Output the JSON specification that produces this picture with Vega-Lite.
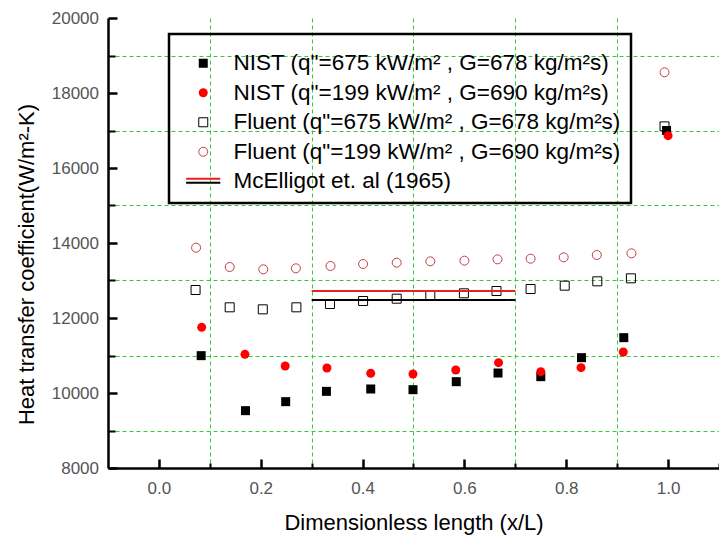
{
  "$schema": "https://vega.github.io/schema/vega-lite/v6.json",
  "width": 611,
  "height": 450,
  "autosize": "none",
  "padding": {"left": 108, "top": 18, "right": 0, "bottom": 70},
  "background": "white",
  "config": {
    "view": {"stroke": null},
    "font": "Liberation Sans",
    "legend": {"strokeWidth": 2.5}
  },
  "resolve": {"axis": {"x": "independent", "y": "independent"}},
  "layer": [
    {
      "data": {"values": [
        {"series": "NIST (q\"=675 kW/m² , G=678 kg/m²s)", "x": 0.083, "h": 10996},
        {"series": "NIST (q\"=675 kW/m² , G=678 kg/m²s)", "x": 0.170, "h": 9529},
        {"series": "NIST (q\"=675 kW/m² , G=678 kg/m²s)", "x": 0.249, "h": 9769},
        {"series": "NIST (q\"=675 kW/m² , G=678 kg/m²s)", "x": 0.329, "h": 10044},
        {"series": "NIST (q\"=675 kW/m² , G=678 kg/m²s)", "x": 0.416, "h": 10107},
        {"series": "NIST (q\"=675 kW/m² , G=678 kg/m²s)", "x": 0.499, "h": 10089},
        {"series": "NIST (q\"=675 kW/m² , G=678 kg/m²s)", "x": 0.584, "h": 10302},
        {"series": "NIST (q\"=675 kW/m² , G=678 kg/m²s)", "x": 0.666, "h": 10533},
        {"series": "NIST (q\"=675 kW/m² , G=678 kg/m²s)", "x": 0.750, "h": 10436},
        {"series": "NIST (q\"=675 kW/m² , G=678 kg/m²s)", "x": 0.830, "h": 10942},
        {"series": "NIST (q\"=675 kW/m² , G=678 kg/m²s)", "x": 0.913, "h": 11476},
        {"series": "NIST (q\"=675 kW/m² , G=678 kg/m²s)", "x": 0.997, "h": 17000},
        {"series": "Fluent (q\"=675 kW/m² , G=678 kg/m²s)", "x": 0.072, "h": 12747},
        {"series": "Fluent (q\"=675 kW/m² , G=678 kg/m²s)", "x": 0.139, "h": 12285},
        {"series": "Fluent (q\"=675 kW/m² , G=678 kg/m²s)", "x": 0.204, "h": 12231},
        {"series": "Fluent (q\"=675 kW/m² , G=678 kg/m²s)", "x": 0.270, "h": 12285},
        {"series": "Fluent (q\"=675 kW/m² , G=678 kg/m²s)", "x": 0.336, "h": 12373},
        {"series": "Fluent (q\"=675 kW/m² , G=678 kg/m²s)", "x": 0.401, "h": 12453},
        {"series": "Fluent (q\"=675 kW/m² , G=678 kg/m²s)", "x": 0.467, "h": 12515},
        {"series": "Fluent (q\"=675 kW/m² , G=678 kg/m²s)", "x": 0.533, "h": 12587},
        {"series": "Fluent (q\"=675 kW/m² , G=678 kg/m²s)", "x": 0.599, "h": 12658},
        {"series": "Fluent (q\"=675 kW/m² , G=678 kg/m²s)", "x": 0.663, "h": 12720},
        {"series": "Fluent (q\"=675 kW/m² , G=678 kg/m²s)", "x": 0.730, "h": 12773},
        {"series": "Fluent (q\"=675 kW/m² , G=678 kg/m²s)", "x": 0.797, "h": 12862},
        {"series": "Fluent (q\"=675 kW/m² , G=678 kg/m²s)", "x": 0.861, "h": 12978},
        {"series": "Fluent (q\"=675 kW/m² , G=678 kg/m²s)", "x": 0.927, "h": 13058},
        {"series": "Fluent (q\"=675 kW/m² , G=678 kg/m²s)", "x": 0.993, "h": 17110},
        {"series": "Fluent (q\"=199 kW/m² , G=690 kg/m²s)", "x": 0.073, "h": 13875},
        {"series": "Fluent (q\"=199 kW/m² , G=690 kg/m²s)", "x": 0.139, "h": 13360},
        {"series": "Fluent (q\"=199 kW/m² , G=690 kg/m²s)", "x": 0.205, "h": 13298},
        {"series": "Fluent (q\"=199 kW/m² , G=690 kg/m²s)", "x": 0.269, "h": 13325},
        {"series": "Fluent (q\"=199 kW/m² , G=690 kg/m²s)", "x": 0.337, "h": 13387},
        {"series": "Fluent (q\"=199 kW/m² , G=690 kg/m²s)", "x": 0.401, "h": 13440},
        {"series": "Fluent (q\"=199 kW/m² , G=690 kg/m²s)", "x": 0.467, "h": 13476},
        {"series": "Fluent (q\"=199 kW/m² , G=690 kg/m²s)", "x": 0.533, "h": 13511},
        {"series": "Fluent (q\"=199 kW/m² , G=690 kg/m²s)", "x": 0.600, "h": 13529},
        {"series": "Fluent (q\"=199 kW/m² , G=690 kg/m²s)", "x": 0.665, "h": 13564},
        {"series": "Fluent (q\"=199 kW/m² , G=690 kg/m²s)", "x": 0.730, "h": 13582},
        {"series": "Fluent (q\"=199 kW/m² , G=690 kg/m²s)", "x": 0.795, "h": 13618},
        {"series": "Fluent (q\"=199 kW/m² , G=690 kg/m²s)", "x": 0.860, "h": 13680},
        {"series": "Fluent (q\"=199 kW/m² , G=690 kg/m²s)", "x": 0.928, "h": 13724},
        {"series": "Fluent (q\"=199 kW/m² , G=690 kg/m²s)", "x": 0.993, "h": 18552},
        {"series": "NIST (q\"=199 kW/m² , G=690 kg/m²s)", "x": 0.084, "h": 11751},
        {"series": "NIST (q\"=199 kW/m² , G=690 kg/m²s)", "x": 0.169, "h": 11031},
        {"series": "NIST (q\"=199 kW/m² , G=690 kg/m²s)", "x": 0.248, "h": 10720},
        {"series": "NIST (q\"=199 kW/m² , G=690 kg/m²s)", "x": 0.330, "h": 10667},
        {"series": "NIST (q\"=199 kW/m² , G=690 kg/m²s)", "x": 0.416, "h": 10524},
        {"series": "NIST (q\"=199 kW/m² , G=690 kg/m²s)", "x": 0.499, "h": 10507},
        {"series": "NIST (q\"=199 kW/m² , G=690 kg/m²s)", "x": 0.583, "h": 10613},
        {"series": "NIST (q\"=199 kW/m² , G=690 kg/m²s)", "x": 0.667, "h": 10809},
        {"series": "NIST (q\"=199 kW/m² , G=690 kg/m²s)", "x": 0.750, "h": 10569},
        {"series": "NIST (q\"=199 kW/m² , G=690 kg/m²s)", "x": 0.829, "h": 10676},
        {"series": "NIST (q\"=199 kW/m² , G=690 kg/m²s)", "x": 0.912, "h": 11093},
        {"series": "NIST (q\"=199 kW/m² , G=690 kg/m²s)", "x": 1.000, "h": 16862}
      ]},
      "mark": {"type": "point", "size": 81, "opacity": 1},
      "encoding": {
        "x": {"field": "x", "type": "quantitative",
          "scale": {"domain": [-0.1, 1.1], "nice": false, "zero": false},
          "axis": {"orient": "bottom", "values": [0, 0.2, 0.4, 0.6, 0.8, 1.0], "format": ".1f",
            "labelFont": "Liberation Sans", "labelFontSize": 17, "labelColor": "#555", "labelPadding": 12,
            "labelFlush": false, "labelOverlap": false, "ticks": false,
            "domainColor": "black", "domainWidth": 2.5, "grid": false,
            "title": "Dimensionless length (x/L)", "titleFont": "Liberation Sans", "titleFontSize": 22,
            "titleFontWeight": "normal", "titleColor": "black", "titleBaseline": "alphabetic", "titleY": 61, "zindex": 1}},
        "y": {"field": "h", "type": "quantitative",
          "scale": {"domain": [8000, 20000], "nice": false, "zero": false},
          "axis": {"orient": "left", "values": [8000, 10000, 12000, 14000, 16000, 18000, 20000], "format": "d",
            "labelFont": "Liberation Sans", "labelFontSize": 17, "labelColor": "#555", "labelPadding": 9.5,
            "labelFlush": false, "labelOverlap": false, "ticks": false,
            "domainColor": "black", "domainWidth": 2.5, "grid": false,
            "title": "Heat transfer coefficient(W/m²-K)", "titleFont": "Liberation Sans", "titleFontSize": 22,
            "titleFontWeight": "normal", "titleColor": "black", "titleBaseline": "alphabetic",
            "titleX": -75, "titleY": 246, "zindex": 1}},
        "shape": {"field": "series", "type": "nominal",
          "scale": {"domain": ["NIST (q\"=675 kW/m² , G=678 kg/m²s)", "NIST (q\"=199 kW/m² , G=690 kg/m²s)", "Fluent (q\"=675 kW/m² , G=678 kg/m²s)", "Fluent (q\"=199 kW/m² , G=690 kg/m²s)", "McElligot et. al (1965)"],
            "range": ["square", "circle", "square", "circle", "M-3.8,-0.55H3.8"]},
          "legend": {"orient": "none", "legendX": 61, "legendY": 16, "title": " ", "titleFontSize": 2, "titlePadding": 6, "padding": 10,
            "strokeColor": "black", "labelFont": "Liberation Sans", "labelFontSize": 22.5,
            "labelColor": "black", "labelLimit": 600, "symbolOffset": 13, "labelOffset": 19, "rowPadding": 6.5, "symbolSize": 81}},
        "fill": {"field": "series", "type": "nominal",
          "scale": {"domain": ["NIST (q\"=675 kW/m² , G=678 kg/m²s)", "NIST (q\"=199 kW/m² , G=690 kg/m²s)", "Fluent (q\"=675 kW/m² , G=678 kg/m²s)", "Fluent (q\"=199 kW/m² , G=690 kg/m²s)", "McElligot et. al (1965)"],
            "range": ["#000000", "#ff0000", "transparent", "transparent", "transparent"]},
          "legend": {"orient": "none", "legendX": 61, "legendY": 16, "title": " ", "titleFontSize": 2, "titlePadding": 6, "padding": 10,
            "strokeColor": "black", "labelFont": "Liberation Sans", "labelFontSize": 22.5,
            "labelColor": "black", "labelLimit": 600, "symbolOffset": 13, "labelOffset": 19, "rowPadding": 6.5, "symbolSize": 81}},
        "stroke": {"field": "series", "type": "nominal",
          "scale": {"domain": ["NIST (q\"=675 kW/m² , G=678 kg/m²s)", "NIST (q\"=199 kW/m² , G=690 kg/m²s)", "Fluent (q\"=675 kW/m² , G=678 kg/m²s)", "Fluent (q\"=199 kW/m² , G=690 kg/m²s)", "McElligot et. al (1965)"],
            "range": ["#000000", "#ff0000", "#000000", "#c0404a", "#e82020"]},
          "legend": {"orient": "none", "legendX": 61, "legendY": 16, "title": " ", "titleFontSize": 2, "titlePadding": 6, "padding": 10,
            "strokeColor": "black", "labelFont": "Liberation Sans", "labelFontSize": 22.5,
            "labelColor": "black", "labelLimit": 600, "symbolOffset": 13, "labelOffset": 19, "rowPadding": 6.5, "symbolSize": 81}},
        "strokeWidth": {"field": "series", "type": "nominal",
          "scale": {"type": "ordinal", "domain": ["NIST (q\"=675 kW/m² , G=678 kg/m²s)", "NIST (q\"=199 kW/m² , G=690 kg/m²s)", "Fluent (q\"=675 kW/m² , G=678 kg/m²s)", "Fluent (q\"=199 kW/m² , G=690 kg/m²s)", "McElligot et. al (1965)"],
            "range": [0, 0, 1, 1, 2]},
          "legend": {"orient": "none", "legendX": 61, "legendY": 16, "title": " ", "titleFontSize": 2, "titlePadding": 6, "padding": 10,
            "strokeColor": "black", "labelFont": "Liberation Sans", "labelFontSize": 22.5,
            "labelColor": "black", "labelLimit": 600, "symbolOffset": 13, "labelOffset": 19, "rowPadding": 6.5, "symbolSize": 81}}
      }
    },
    {
      "data": {"values": [{"x": 0.3, "x2": 0.7, "h": 12720}]},
      "mark": {"type": "rule", "color": "#e82020", "strokeWidth": 2},
      "encoding": {
        "x": {"field": "x", "type": "quantitative",
          "scale": {"domain": [-0.1, 1.1], "nice": false, "zero": false},
          "axis": {"orient": "bottom", "offset": -9, "values": [0, 0.2, 0.4, 0.6, 0.8, 1.0], "labels": false, "domain": false,
            "ticks": true, "tickSize": 9, "tickColor": "#000000", "tickWidth": 2.5, "tickOpacity": 1,
            "grid": false, "title": null, "zindex": 2}},
        "x2": {"field": "x2"},
        "y": {"field": "h", "type": "quantitative",
          "scale": {"domain": [8000, 20000], "nice": false, "zero": false},
          "axis": {"orient": "left", "offset": -9, "values": [8000, 10000, 12000, 14000, 16000, 18000, 20000], "labels": false, "domain": false,
            "ticks": true, "tickSize": 9, "tickColor": "#000000", "tickWidth": 2.5, "tickOpacity": 1,
            "grid": false, "title": null, "zindex": 2}}
      }
    },
    {
      "data": {"values": [{"x": 0.3, "x2": 0.7, "h": 12480, "ref": "McElligot black"}]},
      "mark": {"type": "rule", "color": "#000000", "strokeWidth": 2},
      "encoding": {
        "x": {"field": "x", "type": "quantitative",
          "scale": {"domain": [-0.1, 1.1], "nice": false, "zero": false},
          "axis": {"orient": "bottom", "offset": -5, "values": [0.1, 0.3, 0.5, 0.7, 0.9, 1.1], "labels": false, "domain": false,
            "ticks": true, "tickSize": 5, "tickColor": "#000000", "tickWidth": 2, "tickOpacity": 1,
            "grid": true, "gridColor": "#33cc33", "gridDash": [4, 3], "gridWidth": 1, "title": null, "zindex": 0}},
        "x2": {"field": "x2"},
        "y": {"field": "h", "type": "quantitative",
          "scale": {"domain": [8000, 20000], "nice": false, "zero": false},
          "axis": {"orient": "left", "offset": -7, "values": [9000, 11000, 13000, 15000, 17000, 19000], "labels": false, "domain": false,
            "ticks": true, "tickSize": 7, "tickColor": "#000000", "tickWidth": 2, "tickOpacity": 1,
            "grid": true, "gridColor": "#33cc33", "gridDash": [4, 3], "gridWidth": 1, "title": null, "zindex": 0}},
        "strokeDash": {"field": "ref", "type": "nominal",
          "scale": {"domain": ["McElligot black"], "range": [[1, 0]]},
          "legend": {"orient": "none", "legendX": 61, "legendY": 133, "title": " ", "titleFontSize": 2, "titlePadding": 6, "padding": 10,
            "strokeColor": "transparent",
            "labelFont": "Liberation Sans", "labelFontSize": 22.5, "labelOpacity": 0,
            "labelExpr": "'McElligot et. al (1965)'", "labelLimit": 600,
            "symbolOffset": 13, "labelOffset": 19, "rowPadding": 6.5, "symbolSize": 81,
            "symbolType": "M-3.8,0.55H3.8", "symbolStrokeColor": "black", "symbolStrokeWidth": 2, "symbolFillColor": "transparent"}}
      }
    }
  ]
}
